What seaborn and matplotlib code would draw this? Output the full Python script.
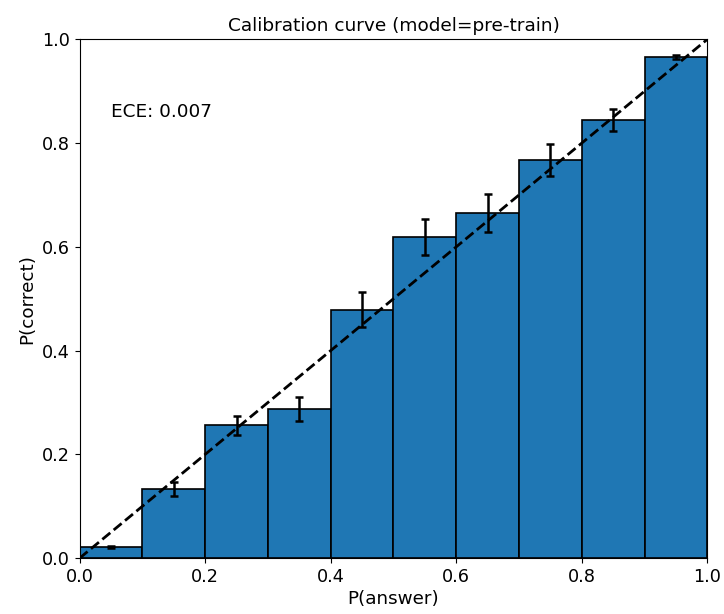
import matplotlib
matplotlib.use("Agg")
import matplotlib.pyplot as plt
import seaborn as sns
import pandas as pd

bin_centers = [0.05, 0.15, 0.25, 0.35, 0.45, 0.55, 0.65, 0.75, 0.85, 0.95]
accuracy = [0.021, 0.133, 0.256, 0.288, 0.479, 0.619, 0.665, 0.768, 0.844, 0.966]
errors = [0.002, 0.014, 0.018, 0.023, 0.033, 0.034, 0.036, 0.031, 0.021, 0.004]
ece_text = "ECE: 0.007"
title = "Calibration curve (model=pre-train)"

df = pd.DataFrame({"conf": bin_centers, "acc": accuracy})

fig = plt.figure(figsize=(7.24, 6.14), dpi=100)
ax = fig.add_axes([0.110, 0.091, 0.867, 0.845])

sns.barplot(data=df, x="conf", y="acc", native_scale=True, width=1.0,
            color="#1f77b4", saturation=1, edgecolor="black", linewidth=1.2,
            errorbar=None, ax=ax)
ax.errorbar(bin_centers, accuracy, yerr=errors, fmt="none", ecolor="black",
            elinewidth=1.8, capsize=3, capthick=1.8, zorder=3)
ax.plot([0, 1], [0, 1], linestyle="--", color="black", linewidth=2, zorder=4)

ax.text(0.05, 0.85, ece_text, fontsize=13.3)
ax.set_xlim(0, 1)
ax.set_ylim(0, 1)
ax.set_xticks([0.0, 0.2, 0.4, 0.6, 0.8, 1.0])
ax.set_xticklabels(["0.0", "0.2", "0.4", "0.6", "0.8", "1.0"])
ax.set_yticks([0.0, 0.2, 0.4, 0.6, 0.8, 1.0])
ax.set_yticklabels(["0.0", "0.2", "0.4", "0.6", "0.8", "1.0"])
ax.tick_params(labelsize=12.7)
ax.set_xlabel("P(answer)", fontsize=13.2, labelpad=3)
ax.set_ylabel("P(correct)", fontsize=13.2)
ax.set_title(title, fontsize=13.3)

fig.savefig("out.png", dpi=100)
